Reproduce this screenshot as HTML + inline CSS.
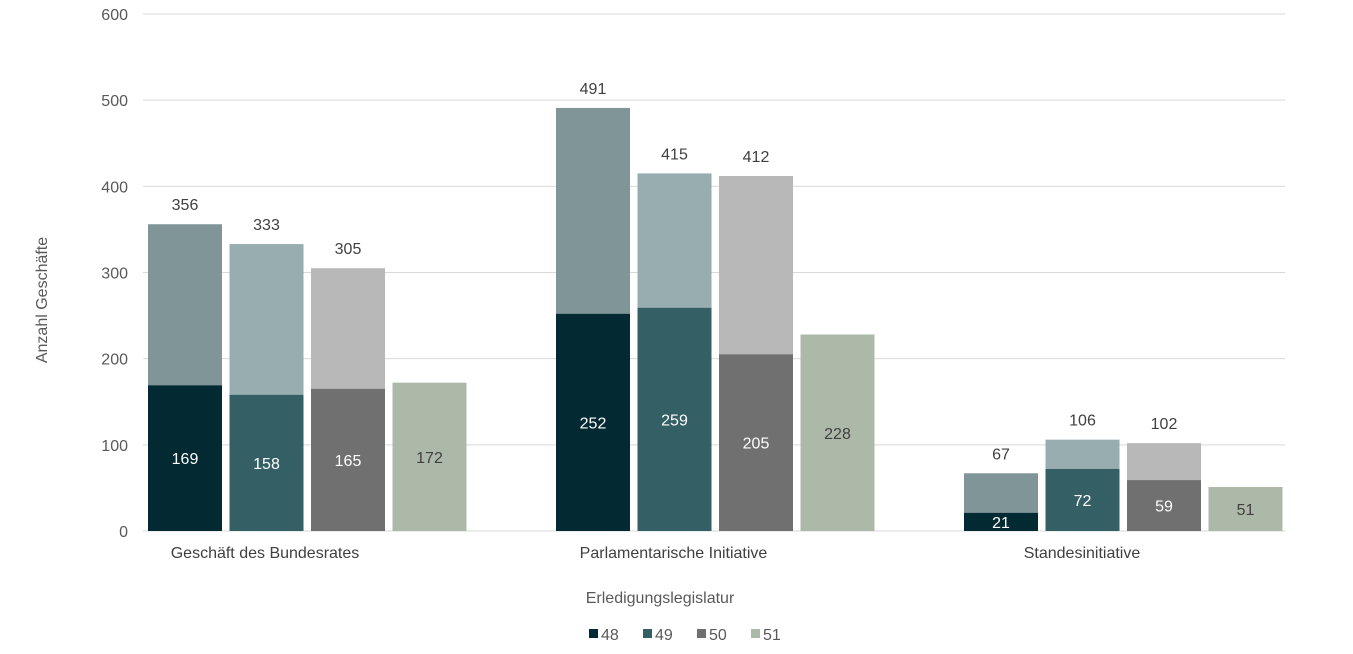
<!DOCTYPE html>
<html><head><meta charset="utf-8"><style>
body{margin:0;background:#fff;font-family:"Liberation Sans",sans-serif;}
svg text{font-family:"Liberation Sans",sans-serif;}
</style></head><body>
<svg id="chart" width="1353" height="649" xmlns="http://www.w3.org/2000/svg">
<g id="grid"></g>
<g id="yticks"></g>
<g id="bars"></g>
<g id="xlabels"></g>
<text transform="translate(47,300) rotate(-90)" text-anchor="middle" font-size="16" fill="#595959">Anzahl Geschäfte</text>
<text x="660" y="603" text-anchor="middle" font-size="16" fill="#595959">Erledigungslegislatur</text>
<g id="legend"></g>
</svg>
<script>
const categories=["Geschäft des Bundesrates","Parlamentarische Initiative","Standesinitiative"];
const seriesNames=["48","49","50","51"];
const totals=[[356,333,305,172],[491,415,412,228],[67,106,102,51]];
const bottoms=[[169,158,165,172],[252,259,205,228],[21,72,59,51]];
const yTicks=[0,100,200,300,400,500,600];
const darkC=["#032a33","#335f65","#707070","#adb9a8"];
const lightC=["#7f9598","#98adb0","#b8b8b8","#adb9a8"];
const NS="http://www.w3.org/2000/svg";
const y0=531,y1=14,yMax=600;
const yS=v=>y0-(v/yMax)*(y0-y1);
const groupStart=i=>148+i*408, barW=74, barStep=81.5;
function mk(tag,attrs,parent,text){const e=document.createElementNS(NS,tag);for(const k in attrs)e.setAttribute(k,attrs[k]);if(text!==undefined)e.textContent=text;parent.appendChild(e);return e;}
const grid=document.getElementById('grid'),yt=document.getElementById('yticks');
yTicks.forEach(t=>{
 const l=mk('line',{x1:143,x2:1285,y1:yS(t),y2:yS(t),stroke:'#d9d9d9','stroke-width':1},grid);
 
 
 const tx=mk('text',{x:128,y:yS(t)+6,'text-anchor':'end','font-size':16,fill:'#595959'},yt,String(t));
 
 
});
const bars=document.getElementById('bars'),xl=document.getElementById('xlabels');
categories.forEach((c,i)=>{
 seriesNames.forEach((s,j)=>{
  const x=groupStart(i)+j*barStep;
  const tot=totals[i][j],b=bottoms[i][j];
  const top=mk('rect',{x:x,y:yS(tot),width:barW,height:yS(0)-yS(tot),fill:lightC[j]},bars);
  
  
  const bot=mk('rect',{x:x,y:yS(b),width:barW,height:yS(0)-yS(b),fill:darkC[j]},bars);
  
  
  const inL=mk('text',{x:x+barW/2,y:(yS(b)+yS(0))/2+6,'text-anchor':'middle','font-size':16,fill:j===3?'#404040':'#ffffff'},bars,String(b));
  
  
  if(tot!==b){
   const tl=mk('text',{x:x+barW/2,y:yS(tot)-14,'text-anchor':'middle','font-size':16,fill:'#404040'},bars,String(tot));
   
   
  }
 });
 const cl=mk('text',{x:265+i*408.5,y:558,'text-anchor':'middle','font-size':16,fill:'#404040'},xl,c);
 
 
});
const lg=document.getElementById('legend');
seriesNames.forEach((s,j)=>{
 const x=589+j*54;
 const g=mk('g',{},lg);
 
 
 mk('rect',{x:x,y:629,width:9,height:9,fill:darkC[j]},g);
 mk('text',{x:x+12,y:640,'font-size':16,fill:'#595959'},g,s);
});
</script>
</body></html>
